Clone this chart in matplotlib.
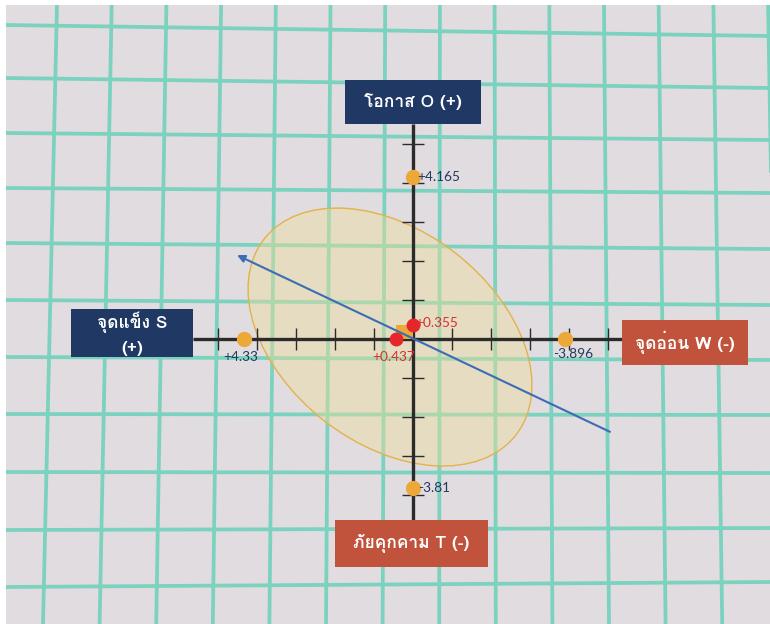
import matplotlib
matplotlib.use("Agg")
import matplotlib.pyplot as plt
import matplotlib.font_manager as fm
from matplotlib import ft2font
from matplotlib.patches import Rectangle, Ellipse
import numpy as np

# ---- SWOT scores -------------------------------------------------------
factor_labels = ["จุดแข็ง S\n(+)", "จุดอ่อน W (-)", "โอกาส O (+)", "ภัยคุกคาม T (-)"]
strength = 4.33
weakness = -3.896
opportunity = 4.165
threat = -3.81
net_sw = 0.437      # S + W
net_ot = 0.355      # O + T
value_texts = ["+4.33", "-3.896", "+4.165", "-3.81", "+0.437", "+0.355"]

# strategy direction (start -> tip), in score units
trend_x = [-5.05, 4.51]
trend_y = [-2.38, 2.15]

x_ticks = [-5, -4, -3, -2, -1, 1, 2, 3, 4, 5]
y_ticks = [-4, -3, -2, -1, 1, 2, 3, 4, 5]


def thai_family():
    paths = set(fm.findSystemFonts()) | {f.fname for f in fm.fontManager.ttflist}
    for p in sorted(paths):
        try:
            cmap = ft2font.FT2Font(p).get_charmap()
        except Exception:
            continue
        if 0x0E01 in cmap and 0x0E38 in cmap and 0x0E47 in cmap:
            try:
                fm.fontManager.addfont(p)
                return fm.FontProperties(fname=p).get_name()
            except Exception:
                continue
    return None


tf = thai_family()
box_family = [tf, "DejaVu Sans"] if tf else ["DejaVu Sans"]
num_family = ["Lato", "DejaVu Sans"]

W, H = 770, 624
fig = plt.figure(figsize=(W / 100, H / 100), dpi=100)
fig.patch.set_facecolor("white")

# ---- background: grid paper screen (pixel layer) -----------------------
bg = fig.add_axes([0, 0, 1, 1])
bg.set_xlim(0, W)
bg.set_ylim(H, 0)
bg.axis("off")
screen = Rectangle((6, 5), W - 6, H - 5, facecolor="#e0dce0", edgecolor="none", zorder=0)
bg.add_patch(screen)

grid_c = "#7bd2bf"
for i in range(-1, 14):
    xt = 57 + 54.7 * i
    xb = 43 + 56.6 * i
    ln, = bg.plot([xt, xb], [5, H], color=grid_c, lw=2.7, zorder=1, solid_capstyle="butt")
    ln.set_clip_path(screen)
left_y = [25, 78, 133, 188, 243, 300, 357, 414, 472, 530, 587]
right_y = [36, 88, 140, 193, 249, 305, 360, 415, 473, 528, 582]
for yl, yr in zip(left_y, right_y):
    ln, = bg.plot([6, W], [yl, yr], color=grid_c, lw=2.7, zorder=1, solid_capstyle="butt")
    ln.set_clip_path(screen)

# ---- chart layer in score units ----------------------------------------
ox, oy, unit = 413, 339, 39.0
ax = fig.add_axes([0, 0, 1, 1])
ax.set_xlim(ox / unit, -(W - ox) / unit)      # positive (S) to the left
ax.set_ylim(-(H - oy) / unit, oy / unit)
ax.axis("off")
ax.patch.set_alpha(0)

# confidence ellipse
ax.add_patch(Ellipse((0.59, 0.05), 8.18, 5.46, angle=37.8,
                     facecolor="#efdc98", alpha=0.42, edgecolor="none", zorder=2))
ax.add_patch(Ellipse((0.59, 0.05), 8.18, 5.46, angle=37.8,
                     facecolor="none", edgecolor="#e3b24a", lw=1.0, zorder=2))

# axes lines
axis_c = "#2b2b2b"
ax.plot([5.64, -5.36], [0, 0], color=axis_c, lw=2.4, zorder=3, solid_capstyle="butt")
ax.plot([0, 0], [-4.64, 5.51], color=axis_c, lw=2.4, zorder=3, solid_capstyle="butt")
ax.plot(x_ticks, np.zeros(len(x_ticks)), ls="none", marker="|", ms=16, mew=1.0,
        color=axis_c, zorder=3)
ax.plot(np.zeros(len(y_ticks)), y_ticks, ls="none", marker="_", ms=16, mew=1.0,
        color=axis_c, zorder=3)

# net position rectangle
ax.add_patch(Rectangle((0, 0), net_sw, net_ot, facecolor="#eba93c", edgecolor="none", zorder=4))

# direction arrow
ax.annotate("", xy=(trend_x[1], trend_y[1]), xytext=(trend_x[0], trend_y[0]),
            arrowprops=dict(arrowstyle="-|>", color="#3a6db4", lw=1.5,
                            mutation_scale=11, shrinkA=0, shrinkB=0), zorder=5)

# factor scores
orange = "#eda83a"
ax.plot([strength, weakness, 0, 0], [0, 0, opportunity, threat], ls="none",
        marker="o", ms=10, color=orange, zorder=6)
ax.plot([net_sw, 0], [0, net_ot], ls="none", marker="o", ms=9, color="#e5262a", zorder=6)

navy_txt = "#22385e"
red_txt = "#d5302e"
fs = 9.8
ax.text(strength + 0.1, -0.45, value_texts[0], color=navy_txt, fontsize=fs,
        family=num_family, ha="center", va="center", zorder=7)
ax.text(weakness - 0.2, -0.38, value_texts[1], color=navy_txt, fontsize=fs,
        family=num_family, ha="center", va="center", zorder=7)
ax.text(-0.12, opportunity, value_texts[2], color=navy_txt, fontsize=fs,
        family=num_family, ha="left", va="center", zorder=7)
ax.text(-0.12, threat, value_texts[3], color=navy_txt, fontsize=fs,
        family=num_family, ha="left", va="center", zorder=7)
ax.text(net_sw + 0.05, -0.45, value_texts[4], color=red_txt, fontsize=fs,
        family=num_family, ha="center", va="center", zorder=7)
ax.text(-0.07, net_ot + 0.05, value_texts[5], color=red_txt, fontsize=fs,
        family=num_family, ha="left", va="center", zorder=7)

# ---- factor boxes (pixel layer on top) ---------------------------------
top = fig.add_axes([0, 0, 1, 1])
top.set_xlim(0, W)
top.set_ylim(H, 0)
top.axis("off")
top.patch.set_alpha(0)

navy = "#1f3864"
brick = "#c1533d"
boxes = [
    (71, 309, 193, 357, navy, factor_labels[0]),
    (622, 320, 748, 365, brick, factor_labels[1]),
    (345, 80, 481, 124, navy, factor_labels[2]),
    (335, 520, 488, 567, brick, factor_labels[3]),
]
for x0, y0, x1, y1, c, label in boxes:
    top.add_patch(Rectangle((x0, y0), x1 - x0, y1 - y0, facecolor=c, edgecolor="none", zorder=8))
    if "\n" in label:
        l1, l2 = label.split("\n")
        top.text((x0 + x1) / 2, y0 + 13, l1, color="white", fontsize=12.5, weight="bold",
                 family=box_family, ha="center", va="center", zorder=9)
        top.text((x0 + x1) / 2, y1 - 9, l2, color="white", fontsize=12.5, weight="bold",
                 family=box_family, ha="center", va="center", zorder=9)
    else:
        top.text((x0 + x1) / 2, (y0 + y1) / 2, label, color="white", fontsize=12.5,
                 weight="bold", family=box_family, ha="center", va="center", zorder=9)

fig.savefig("out.png", dpi=100, facecolor=fig.get_facecolor())
